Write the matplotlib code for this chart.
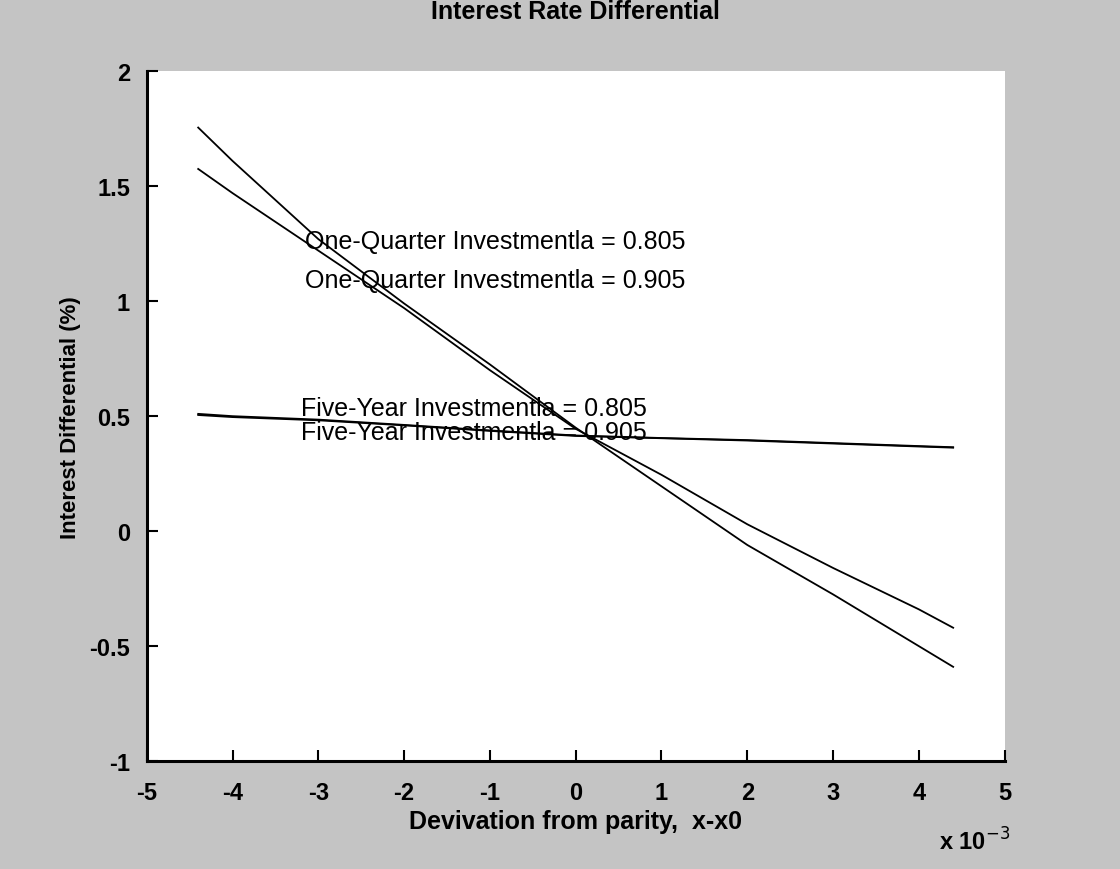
import matplotlib
matplotlib.use("Agg")
import matplotlib.pyplot as plt
import numpy as np

# deviation from parity (x10^-3)
x = [-4.4, -4, -3, -2, -1, 0, 1, 2, 3, 4, 4.4]

# one-quarter investment, two alpha values
quarter_805 = [1.755, 1.61, 1.27, 0.99, 0.725, 0.45, 0.195, -0.06, -0.275, -0.50, -0.59]
quarter_905 = [1.575, 1.47, 1.22, 0.97, 0.70, 0.445, 0.245, 0.03, -0.16, -0.34, -0.42]

# five-year investment, two alpha values
five_805 = [0.51, 0.50, 0.485, 0.462, 0.438, 0.416, 0.405, 0.396, 0.383, 0.370, 0.365]
five_905 = [0.505, 0.496, 0.482, 0.460, 0.436, 0.414, 0.404, 0.394, 0.381, 0.368, 0.363]

labels = [
    ("One-Quarter Investmentla = 0.805", -3.15, 1.26),
    ("One-Quarter Investmentla = 0.905", -3.15, 1.09),
    ("Five-Year Investmentla = 0.805", -3.2, 0.535),
    ("Five-Year Investmentla = 0.905", -3.2, 0.43),
]

x_ticks = [-5, -4, -3, -2, -1, 0, 1, 2, 3, 4, 5]
y_ticks = [-1, -0.5, 0, 0.5, 1, 1.5, 2]

plt.rcParams['font.family'] = ['Liberation Sans', 'DejaVu Sans']
plt.rcParams['axes.unicode_minus'] = False

fig = plt.figure(figsize=(11.2, 8.7), dpi=100, facecolor='#c4c4c4')
ax = fig.add_axes([0.131, 0.124, 0.766, 0.793])
ax.set_facecolor('white')

for series in (quarter_805, quarter_905, five_805, five_905):
    ax.plot(x, series, color='black', linewidth=1.3)

for text, tx, ty in labels:
    ax.text(tx, ty, text, fontsize=18, va='center', ha='left')

ax.set_xlim(-5, 5)
ax.set_ylim(-1, 2)
ax.set_xticks(x_ticks)
ax.set_xticklabels([str(t) for t in x_ticks])
ax.set_yticks(y_ticks)
ax.set_yticklabels(['-1', '-0.5', '0', '0.5', '1', '1.5', '2'])
ax.tick_params(direction='in', length=8, width=1.5, labelsize=17)
ax.tick_params(axis='x', pad=14)
ax.tick_params(axis='y', pad=12)
for lab in ax.get_xticklabels() + ax.get_yticklabels():
    lab.set_fontweight('bold')

for side in ('top', 'right'):
    ax.spines[side].set_visible(False)
for side in ('left', 'bottom'):
    ax.spines[side].set_linewidth(2.2)

ax.set_title('Interest Rate Differential', fontsize=18, fontweight='bold', y=1.065)
ax.set_xlabel('Devivation from parity,  x-x0', fontsize=18, fontweight='bold', labelpad=4)
ax.set_ylabel('Interest Differential (%)', fontsize=16, fontweight='bold', labelpad=6)
fig.text(0.838, 0.022, r'x 10$^{-3}$', fontsize=17, fontweight='bold')

fig.savefig('out.png', dpi=100, facecolor=fig.get_facecolor())
